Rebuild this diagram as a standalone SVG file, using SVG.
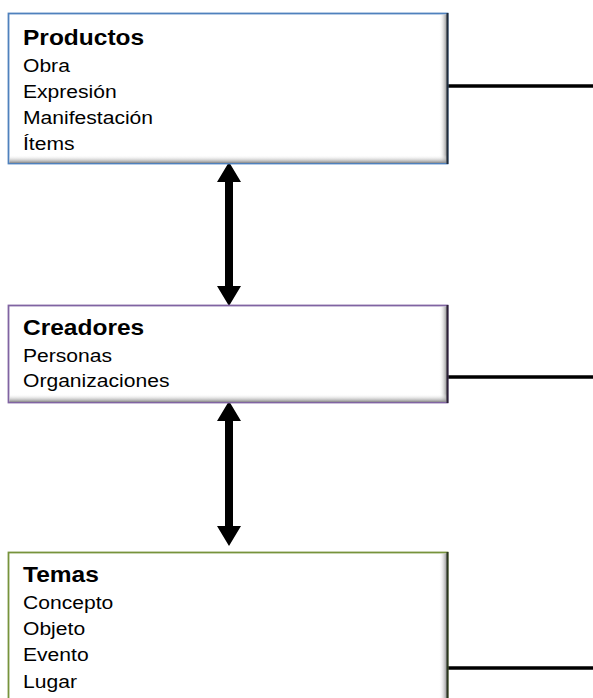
<svg xmlns="http://www.w3.org/2000/svg" width="593" height="698" viewBox="0 0 593 698">
<style>
.t{font-family:"Liberation Sans",Arial,sans-serif;font-size:18.5px;fill:#000}
.h{font-weight:bold;font-size:21.5px}
.box{fill:#fff;stroke-width:1.8}
.conn{stroke:#000;stroke-width:3.6;fill:none}
.arr{fill:#000}
</style>
<defs>
<linearGradient id="gr" x1="0" y1="0" x2="1" y2="0">
<stop offset="0" stop-color="#fff" stop-opacity="0"/>
<stop offset="1" stop-color="#8a8a8a"/>
</linearGradient>
<linearGradient id="gb" x1="0" y1="0" x2="0" y2="1">
<stop offset="0" stop-color="#fff" stop-opacity="0"/>
<stop offset="1" stop-color="#8a8a8a"/>
</linearGradient>
</defs>
<rect width="593" height="698" fill="#fff"/>
<g id="connectors">
<line class="conn" x1="448" y1="86" x2="593" y2="86"/>
<line class="conn" x1="448" y1="377" x2="593" y2="377"/>
<line class="conn" x1="448" y1="668" x2="593" y2="668"/>
<path class="arr" d="M229,162 L241,182 L233,182 L233,286 L241,286 L229,306 L217,286 L225,286 L225,182 L217,182 Z"/>
<path class="arr" d="M229,401 L241,421 L233,421 L233,526 L241,526 L229,546 L217,526 L225,526 L225,421 L217,421 Z"/>
</g>
<g id="productos">
<rect class="box" x="8.5" y="13.5" width="439" height="150" stroke="#4f81bd"/>
<rect x="439" y="14.5" width="8" height="148" fill="url(#gr)"/>
<rect x="9.5" y="155" width="437" height="8" fill="url(#gb)"/>
<line x1="447.5" y1="13" x2="447.5" y2="164" stroke="#1f2a38" stroke-width="2"/>
<g transform="translate(23,0) scale(1.14,1)">
<text class="t h" x="0" y="45">Productos</text>
<text class="t" x="0" y="72.5">Obra</text>
<text class="t" x="0" y="98.5">Expresión</text>
<text class="t" x="0" y="124">Manifestación</text>
<text class="t" x="0" y="150">Ítems</text>
</g>
</g>
<g id="creadores">
<rect class="box" x="8.5" y="305.5" width="439" height="97" stroke="#8064a2"/>
<rect x="439" y="306.5" width="8" height="95" fill="url(#gr)"/>
<rect x="9.5" y="394" width="437" height="8" fill="url(#gb)"/>
<line x1="447.5" y1="305" x2="447.5" y2="403" stroke="#2a2035" stroke-width="2"/>
<g transform="translate(23,0) scale(1.14,1)">
<text class="t h" x="0" y="335.5">Creadores</text>
<text class="t" x="0" y="362.5">Personas</text>
<text class="t" x="0" y="387.5">Organizaciones</text>
</g>
</g>
<g id="temas">
<rect class="box" x="8.5" y="552.5" width="439" height="160" stroke="#77933c"/>
<rect x="439" y="553.5" width="8" height="150" fill="url(#gr)"/>
<line x1="447.5" y1="552" x2="447.5" y2="698" stroke="#2a3520" stroke-width="2"/>
<g transform="translate(23,0) scale(1.14,1)">
<text class="t h" x="0" y="582.5">Temas</text>
<text class="t" x="0" y="609">Concepto</text>
<text class="t" x="0" y="635.5">Objeto</text>
<text class="t" x="0" y="661.5">Evento</text>
<text class="t" x="0" y="688">Lugar</text>
</g>
</g>
</svg>
